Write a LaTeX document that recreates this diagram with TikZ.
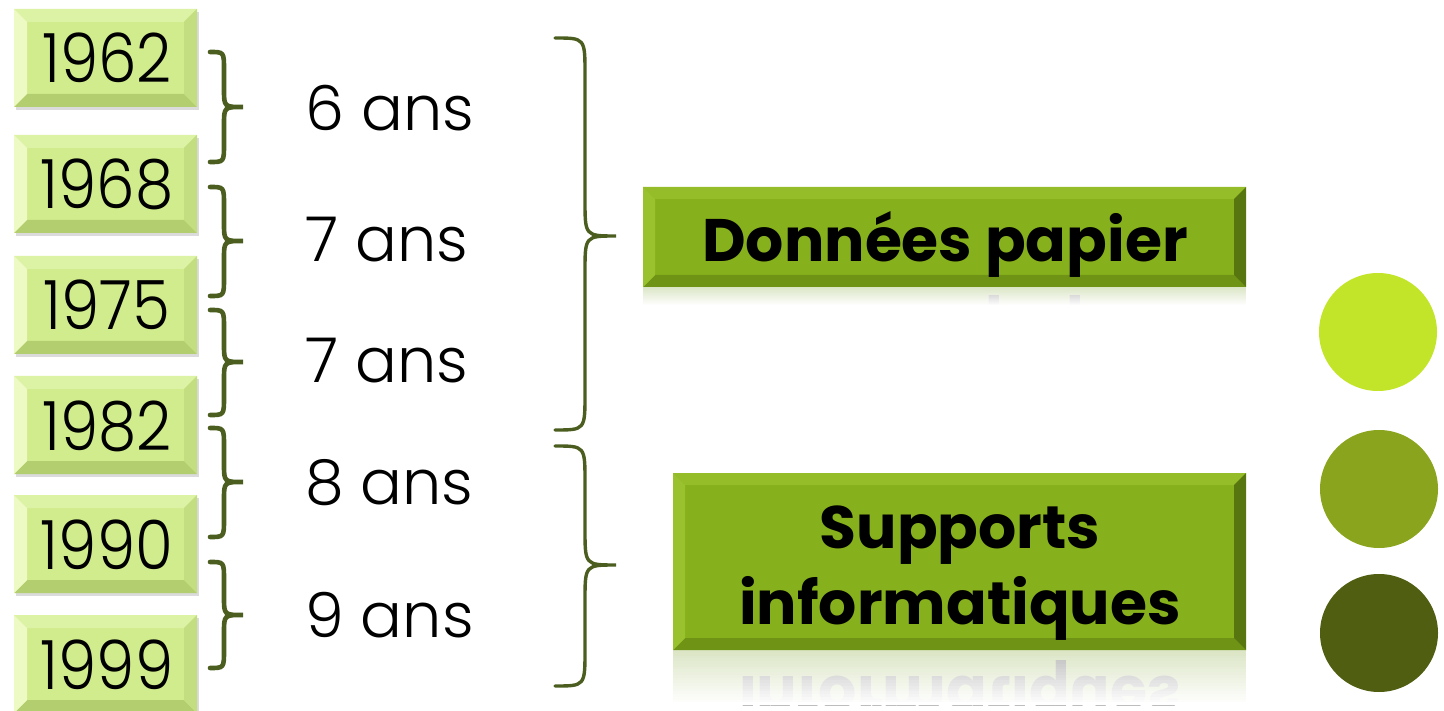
\documentclass[tikz,border=0pt]{standalone}
\usepackage{fontspec}
\setmainfont{Poppins}
\newfontfamily\lightfont{Poppins}[UprightFont=* Light]
\usepackage{graphicx}
\definecolor{ymain}{HTML}{D1EC8D}
\definecolor{ytop}{HTML}{DCF2A4}
\definecolor{yleft}{HTML}{EEFAC4}
\definecolor{ybot}{HTML}{B3CE6E}
\definecolor{yright}{HTML}{C3DE80}
\definecolor{gmain}{HTML}{87B11C}
\definecolor{gtop}{HTML}{95BD29}
\definecolor{gleft}{HTML}{99C22E}
\definecolor{gbot}{HTML}{6E9315}
\definecolor{gright}{HTML}{58760F}
\definecolor{bracecol}{HTML}{4B5E20}
\definecolor{reflbg}{HTML}{DCE6C6}
\definecolor{refltxt}{HTML}{BDBDBD}
\definecolor{c1}{HTML}{C2E52A}
\definecolor{c2}{HTML}{8AA41E}
\definecolor{c3}{HTML}{4F5E11}
\newcommand\bevel[6]{%
 \fill[#6main] (#1,#2) rectangle (#3,#4);
 \fill[#6top] (#1,#2) -- (#3,#2) -- ({#3-#5},{#2+#5}) -- ({#1+#5},{#2+#5}) -- cycle;
 \fill[#6bot] (#1,#4) -- (#3,#4) -- ({#3-#5},{#4-#5}) -- ({#1+#5},{#4-#5}) -- cycle;
 \fill[#6left] (#1,#2) -- ({#1+#5},{#2+#5}) -- ({#1+#5},{#4-#5}) -- (#1,#4) -- cycle;
 \fill[#6right] (#3,#2) -- ({#3-#5},{#2+#5}) -- ({#3-#5},{#4-#5}) -- (#3,#4) -- cycle;
}
\newcommand\cbrace[8]{%
 \draw[bracestyle,line width=#8] (#1,#4) .. controls (#2,#4) and (#2,#4) .. (#2,{#4+#7})
   -- (#2,{#5-#7}) .. controls (#2,#5) and (#2,#5) .. (#3,#5)
   .. controls (#2,#5) and (#2,#5) .. (#2,{#5+#7})
   -- (#2,{#6-#7}) .. controls (#2,#6) and (#2,#6) .. (#1,#6);
}
\begin{document}
\begin{tikzpicture}[x=1pt,y=-1pt,
  bracestyle/.style={draw=bracecol,line cap=round},
  yeartext/.style={anchor=base,inner sep=0pt,font=\fontsize{68}{68}\lightfont},
  anstext/.style={anchor=base west,inner sep=0pt,font=\fontsize{62}{62}\lightfont},
  boxtext/.style={anchor=base,inner sep=0pt,font=\fontsize{60}{60}\selectfont\bfseries},
  refltext/.style={anchor=base,inner sep=0pt,text=refltxt,font=\fontsize{60}{60}\selectfont\bfseries},
  dot/.style={circle,inner sep=0pt,minimum size=118pt}]
\useasboundingbox (0,0) rectangle (1444,711);
% year boxes
\foreach \t/\yr [count=\i] in {9/1962,135/1968,256/1975,376/1982,495/1990,615/1999}{
  \fill[black!14] (16,\t+3) rectangle (199,\t+101);
  \bevel{14}{\t}{197}{\t+98}{13}{y}
  \node[yeartext] (y\i) at (107,\t+74) {\scalebox{0.9}[1]{\yr}};
}
% small braces
\cbrace{210}{224}{243}{52}{107}{162}{18}{4.6pt}
\cbrace{210}{224}{243}{187}{241}{296}{18}{4.6pt}
\cbrace{210}{224}{243}{310}{362}{415}{18}{4.6pt}
\cbrace{210}{224}{243}{428}{482}{537}{18}{4.6pt}
\cbrace{210}{224}{243}{562}{615}{668}{18}{4.6pt}
% durations
\node[anstext] (a1) at (305,131) {6 ans};
\node[anstext] (a2) at (305,262) {7 ans};
\node[anstext] (a3) at (305,383) {7 ans};
\node[anstext] (a4) at (305,504) {8 ans};
\node[anstext] (a5) at (305,637) {9 ans};
% big braces
\cbrace{555}{585}{616}{38}{236}{430}{36}{3.4pt}
\cbrace{555}{585}{616}{446}{565}{686}{36}{3.4pt}
% box 1 reflection
\begin{scope}
  \clip (643,287) rectangle (1246,306);
  \fill[reflbg] (643,287) rectangle (1246,306);
  \node[refltext] at (945,312) {\scalebox{1}[-1]{Données papier}};
  \foreach \k in {0,...,18}{
    \fill[white,opacity=\k/18] (643,{287+\k}) rectangle (1246,{288+\k});
  }
\end{scope}
% box 2 reflection
\begin{scope}
  \clip (673,650) rectangle (1246,705);
  \fill[reflbg] (673,650) rectangle (1246,705);
  \node[refltext] at (960,676) {\scalebox{1}[-1]{informatiques}};
  \foreach \k in {0,...,19}{
    \fill[white,opacity=\k/19] (673,{650+\k*2.75}) rectangle (1246,{652.75+\k*2.75});
  }
\end{scope}
% green boxes
\bevel{643}{187}{1246}{287}{12}{g}
\node[boxtext] (b1) at (945,262) {Données papier};
\bevel{673}{473}{1246}{650}{12}{g}
\node[boxtext] (b2) at (960,548) {Supports};
\node[boxtext] (b3) at (960,624) {informatiques};
% circles
\node[dot,fill=c1] (d1) at (1378,332) {};
\node[dot,fill=c2] (d2) at (1379,489) {};
\node[dot,fill=c3] (d3) at (1379,633) {};
\end{tikzpicture}
\end{document}
